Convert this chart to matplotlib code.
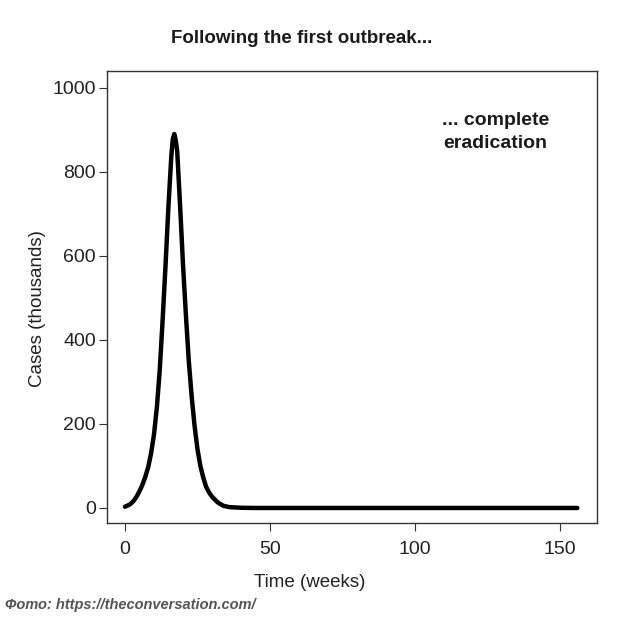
import matplotlib
matplotlib.use('Agg')
import matplotlib.pyplot as plt

plt.rcParams['font.family'] = ['Liberation Sans', 'DejaVu Sans']

# weekly cases (thousands)
weeks = [0, 1, 2, 3, 4, 5, 6, 7, 8, 9, 10, 11, 12, 13, 14, 15, 16, 16.5, 17, 17.5, 18,
         19, 20, 21, 22, 23, 24, 25, 26, 27, 28, 29, 30, 32, 34, 36, 40, 45, 156]
cases = [3, 6, 10, 17, 27, 40, 55, 74, 97, 130, 175, 240, 330, 450, 580, 720, 840, 878,
         890, 875, 850, 720, 580, 460, 350, 265, 195, 140, 100, 72, 50, 37, 27, 13, 5, 2,
         0.5, 0, 0]

xticks = [0, 50, 100, 150]
yticks = [0, 200, 400, 600, 800, 1000]

fig = plt.figure(figsize=(6.2, 6.2), dpi=100)
ax = fig.add_axes([0.1726, 0.1565, 0.7904, 0.729])
ax.plot(weeks, cases, color='black', lw=3.2, solid_capstyle='round', solid_joinstyle='round')
ax.set_xlim(-6.2, 162.8)
ax.set_ylim(-35.7, 1040)
ax.set_xticks(xticks)
ax.set_yticks(yticks)
ax.tick_params(labelsize=14, length=6, color='#333333', labelcolor='#222222')
ax.tick_params(axis='x', pad=7)
ax.tick_params(axis='y', pad=2)
for s in ax.spines.values():
    s.set_color('#333333')
    s.set_linewidth(1.0)

ax.text(0.792, 0.865, '... complete\neradication', transform=ax.transAxes,
        ha='center', va='center', fontsize=14, fontweight='bold', color='#1a1a1a',
        linespacing=1.4)

fig.text(0.487, 0.938, 'Following the first outbreak...', ha='center', va='center',
         fontsize=13.5, fontweight='bold', color='#1a1a1a')
fig.text(0.499, 0.060, 'Time (weeks)', ha='center', va='center', fontsize=13.5, color='#222222')
fig.text(0.060, 0.503, 'Cases (thousands)', ha='center', va='center', rotation=90,
         fontsize=13.5, color='#222222')
fig.text(0.008, 0.024, 'Фото: https://theconversation.com/', ha='left', va='center',
         fontsize=10.5, fontweight='bold', style='italic', color='#555555')

fig.savefig('out.png', dpi=100, facecolor='white')
